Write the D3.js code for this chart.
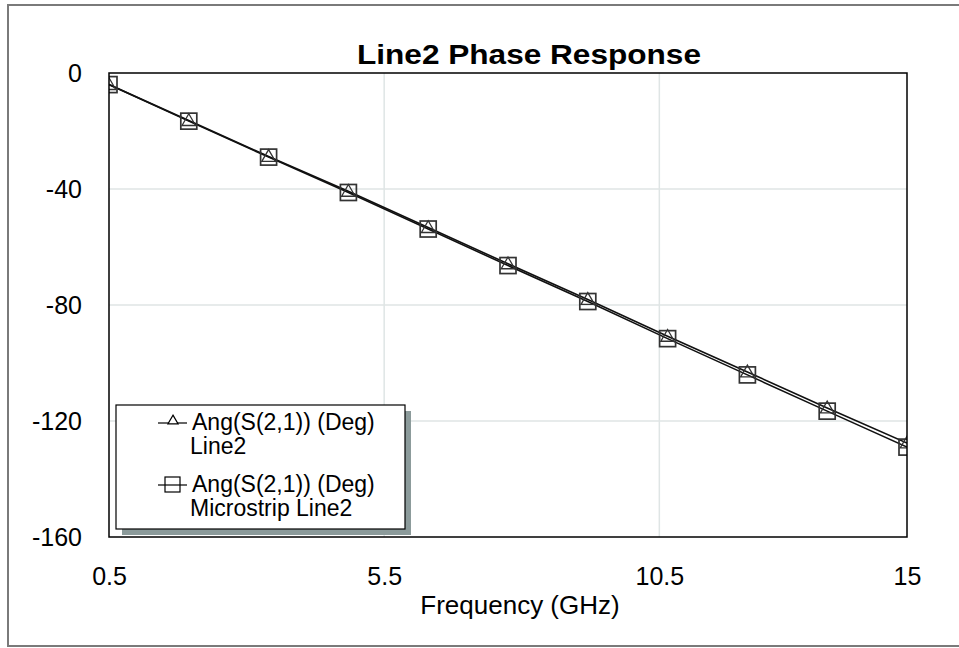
<!DOCTYPE html>
<html>
<head>
<meta charset="utf-8">
<script src="https://cdn.jsdelivr.net/npm/d3@7"></script>
<style>
    body { margin: 0; background: #fff; }
    text { font-family: "Liberation Sans", Arial, sans-serif; fill: #000; }
</style>
</head>
<body>
<div class="chart"></div>
<script>
// chart values
var freqs = [0.5, 1.95, 3.4, 4.85, 6.3, 7.75, 9.2, 10.65, 12.1, 13.55, 15];
var line2 = [-4.0, -16.4, -28.8, -40.8, -53.3, -65.8, -78.1, -90.8, -103.1, -115.5, -127.6];
var microstrip = [-4.0, -16.6, -29.0, -41.2, -53.8, -66.4, -78.8, -91.6, -104.1, -116.6, -129.0];
var xTicks = [0.5, 5.5, 10.5, 15];
var yTicks = [0, -40, -80, -120, -160];
var seriesNames = [
    ["Ang(S(2,1)) (Deg)", "Line2"],
    ["Ang(S(2,1)) (Deg)", "Microstrip Line2"]
];

var config = {};
config.svg = { width: 959, height: 648 };
config.margin = { top: 73, right: 52, bottom: 111, left: 109 };
config.plot = {
    width: config.svg.width - config.margin.left - config.margin.right,
    height: config.svg.height - config.margin.top - config.margin.bottom
};

var translate = (x, y) => "translate(" + x + "," + y + ")";

var root = d3.select(".chart").append("svg")
    .attr("width", config.svg.width)
    .attr("height", config.svg.height);

// outer border
root.append("rect")
    .attr("x", 8).attr("y", 5)
    .attr("width", 952).attr("height", 641)
    .attr("fill", "none")
    .attr("stroke", "#7a7a7a")
    .attr("stroke-width", 2);

var svg = root.append("g")
    .attr("transform", translate(config.margin.left, config.margin.top));

var xScale = d3.scaleLinear().domain([0.5, 15]).range([0, config.plot.width]);
var yScale = d3.scaleLinear().domain([-160, 0]).range([config.plot.height, 0]);

// grid
svg.append("g").selectAll("line.vgrid")
    .data(xTicks.slice(1, -1))
    .enter().append("line")
    .attr("x1", d => xScale(d)).attr("x2", d => xScale(d))
    .attr("y1", 0).attr("y2", config.plot.height)
    .attr("stroke", "#dfe5e5").attr("stroke-width", 1.5);

svg.append("g").selectAll("line.hgrid")
    .data(yTicks.slice(1, -1))
    .enter().append("line")
    .attr("x1", 0).attr("x2", config.plot.width)
    .attr("y1", d => yScale(d)).attr("y2", d => yScale(d))
    .attr("stroke", "#dfe5e5").attr("stroke-width", 1.5);

// axes, labels only
var xAxis = d3.axisBottom(xScale).tickValues(xTicks).tickSize(0).tickPadding(30)
    .tickFormat(d => d);
var yAxis = d3.axisLeft(yScale).tickValues(yTicks).tickSize(0).tickPadding(27)
    .tickFormat(d => d);

svg.append("g")
    .attr("class", "x axis")
    .attr("transform", translate(0, config.plot.height))
    .call(xAxis)
    .call(g => g.select(".domain").remove())
    .selectAll("text")
    .attr("font-size", "25px")
    .attr("font-family", "Liberation Sans, Arial, sans-serif")
    .attr("fill", "#000");

svg.append("g")
    .attr("class", "y axis")
    .call(yAxis)
    .call(g => g.select(".domain").remove())
    .selectAll("text")
    .attr("font-size", "25px")
    .attr("font-family", "Liberation Sans, Arial, sans-serif")
    .attr("fill", "#000");

// clip the traces to the plot box
svg.append("defs").append("clipPath").attr("id", "plotclip")
    .append("rect")
    .attr("width", config.plot.width)
    .attr("height", config.plot.height);

var traces = svg.append("g").attr("clip-path", "url(#plotclip)");

var line = d3.line()
    .x((d, i) => xScale(freqs[i]))
    .y(d => yScale(d));

[line2, microstrip].forEach(s => {
    traces.append("path")
        .datum(s)
        .attr("d", line)
        .attr("fill", "none")
        .attr("stroke", "#111")
        .attr("stroke-width", 1.6);
});

var tri = d3.symbol().type(d3.symbolTriangle).size(80);

traces.selectAll("rect.sq")
    .data(microstrip)
    .enter().append("rect")
    .attr("class", "sq")
    .attr("x", (d, i) => xScale(freqs[i]) - 8)
    .attr("y", d => yScale(d) - 8)
    .attr("width", 16).attr("height", 16)
    .attr("fill", "none")
    .attr("stroke", "#333")
    .attr("stroke-width", 1.7);

traces.selectAll("path.tri")
    .data(line2)
    .enter().append("path")
    .attr("class", "tri")
    .attr("d", tri)
    .attr("transform", (d, i) => translate(xScale(freqs[i]), yScale(d) + 1))
    .attr("fill", "none")
    .attr("stroke", "#333")
    .attr("stroke-width", 1.3);

// plot frame
svg.append("rect")
    .attr("width", config.plot.width)
    .attr("height", config.plot.height)
    .attr("fill", "none")
    .attr("stroke", "#000")
    .attr("stroke-width", 1.5);

// title and axis title
root.append("text")
    .text("Line2 Phase Response")
    .attr("x", 529).attr("y", 64)
    .attr("text-anchor", "middle")
    .attr("font-size", "28px")
    .attr("font-weight", "bold")
    .attr("textLength", 344)
    .attr("lengthAdjust", "spacingAndGlyphs");

root.append("text")
    .text("Frequency (GHz)")
    .attr("x", 520).attr("y", 614)
    .attr("text-anchor", "middle")
    .attr("font-size", "26px");

// legend
var drawLegend = function () {
    var legend = root.append("g").attr("transform", translate(116, 405));
    var w = 289, h = 124;

    legend.append("rect")
        .attr("x", 6).attr("y", 6)
        .attr("width", w).attr("height", h)
        .attr("fill", "#8c9b9b");
    legend.append("rect")
        .attr("width", w).attr("height", h)
        .attr("fill", "#fff")
        .attr("stroke", "#000")
        .attr("stroke-width", 1.2);

    var entries = legend.selectAll("g.entry")
        .data(seriesNames)
        .enter().append("g")
        .attr("class", "entry")
        .attr("transform", (d, i) => translate(0, i * 62));

    entries.append("line")
        .attr("x1", 42).attr("x2", 71)
        .attr("y1", 18).attr("y2", 18)
        .attr("stroke", "#000").attr("stroke-width", 1.2);

    entries.filter((d, i) => i === 0).append("path")
        .attr("d", d3.symbol().type(d3.symbolTriangle).size(45))
        .attr("transform", translate(57, 16))
        .attr("fill", "#fff").attr("stroke", "#000").attr("stroke-width", 1.2);

    entries.filter((d, i) => i === 1).append("rect")
        .attr("x", 49).attr("y", 10).attr("width", 15).attr("height", 15)
        .attr("fill", "none").attr("stroke", "#000").attr("stroke-width", 1.2);

    entries.append("text")
        .attr("x", 76).attr("y", 25)
        .attr("font-size", "23px")
        .text(d => d[0]);
    entries.append("text")
        .attr("x", 74).attr("y", 49)
        .attr("font-size", "23px")
        .text(d => d[1]);
};
drawLegend();
</script>
</body>
</html>
